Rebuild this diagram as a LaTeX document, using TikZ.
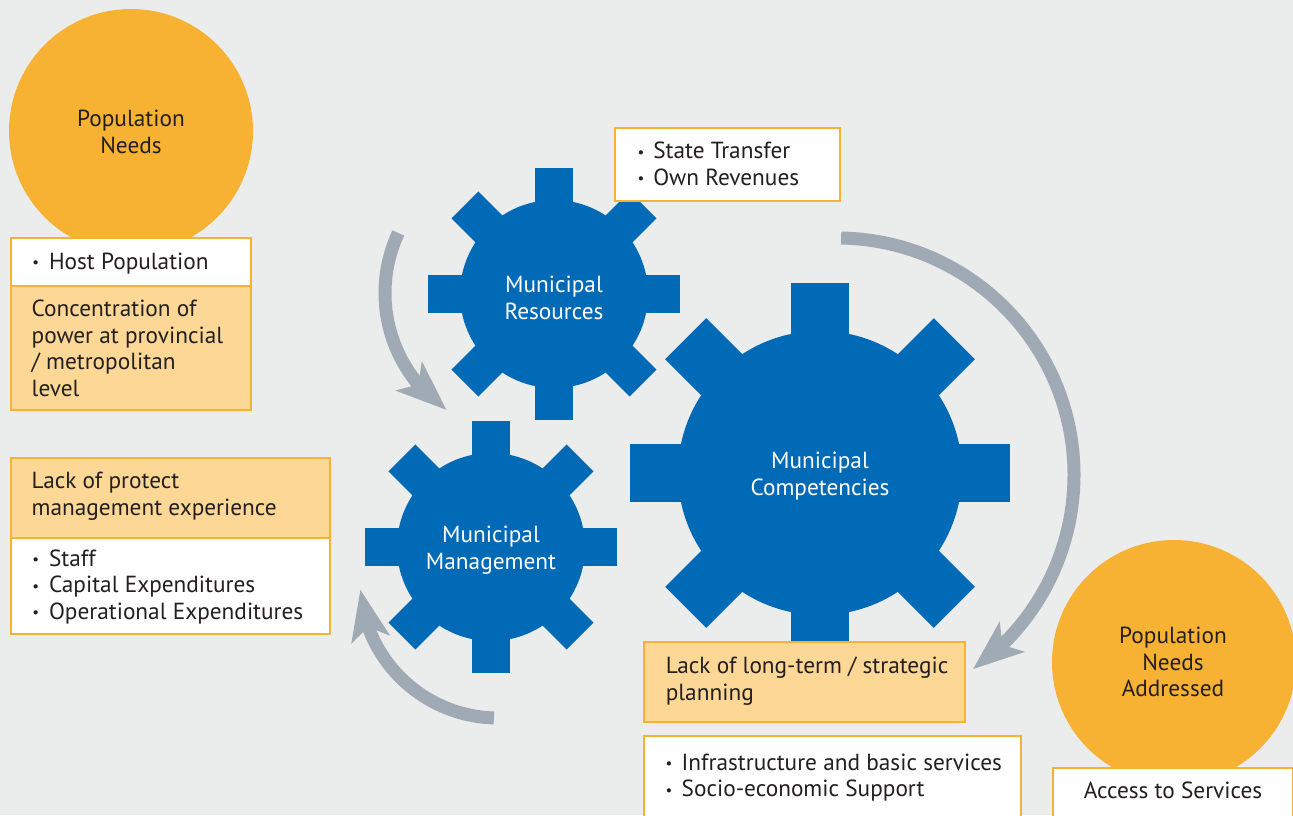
\documentclass[tikz,border=0pt]{standalone}
\usepackage{fontspec}
\setmainfont{PT Sans}
\usetikzlibrary{arrows.meta,bending}
\definecolor{bgc}{HTML}{EBECEC}
\definecolor{gearblue}{HTML}{006AB6}
\definecolor{orng}{HTML}{F7B233}
\definecolor{lightor}{HTML}{FDD795}
\definecolor{arrowgrey}{HTML}{A0AAB5}
\definecolor{txtc}{HTML}{231F20}
\newcommand\bul[1]{\makebox[#1][l]{\raisebox{1.5pt}{\fontsize{15}{15}\selectfont\textbullet}}}
\newcommand\drawgear[5]{%
  \begin{scope}[shift={(#1,#2)}]
    \fill[gearblue] (0,0) circle[radius=#3];
    \foreach \a in {0,45,...,315}
      \fill[gearblue, rotate=\a] (0,-#5/2) rectangle (#4,#5/2);
  \end{scope}}
\begin{document}
\begin{tikzpicture}[x=1pt,y=-1pt,
  every node/.style={inner sep=0pt, outer sep=0pt, text=txtc,
    font=\fontsize{23.3}{26.5}\selectfont},
  wbox/.style={draw=orng, line width=2.5pt, fill=white, anchor=north west},
  obox/.style={draw=orng, line width=2.5pt, fill=lightor, anchor=north west},
  circ/.style={circle, fill=orng},
  gtxt/.style={text=white, align=center, anchor=base},
  ltxt/.style={align=left, anchor=base west},
  garrow/.style={draw=arrowgrey, line width=13pt,
    -{Stealth[length=50pt, width=38pt, inset=12pt, flex]}}
]
\fill[bgc] (0,0) rectangle (1293,815);
\useasboundingbox (0,0) rectangle (1293,815);

% circles
\node[circ, minimum size=244pt] (pn) at (131,131) {};
\node[circ, minimum size=244pt] (pna) at (1174,662) {};

% gears
\drawgear{554}{294}{94}{126}{38}
\drawgear{491}{547}{94}{126}{38}
\drawgear{820}{473}{142}{190}{58}

% arrows
\coordinate (c1) at (527,293);
\coordinate (c2) at (498,580);
\coordinate (c3) at (837,475);
\draw[garrow] (c1) ++(205:142) arc[start angle=205, end angle=124.5, radius=142];
\draw[garrow] (c2) ++(91.7:138) arc[start angle=91.7, end angle=176, radius=138];
\draw[garrow] (c3) ++(-89:237) arc[start angle=-89, end angle=55, radius=237];

% boxes
\node[wbox, minimum width=240pt, minimum height=48pt] (b1) at (11,238) {};
\node[obox, minimum width=240pt, minimum height=124pt] (b2) at (11,286) {};
\node[obox, minimum width=319pt, minimum height=80pt] (b3) at (11,458) {};
\node[wbox, minimum width=319pt, minimum height=96pt] (b4) at (11,538) {};
\node[wbox, minimum width=225pt, minimum height=73pt] (b5) at (615,128) {};
\node[obox, minimum width=321pt, minimum height=80pt] (b6) at (644,642) {};
\node[wbox, minimum width=377pt, minimum height=100pt] (b7) at (644,736) {};
\node[wbox, minimum width=240pt, minimum height=60pt] (b8) at (1053,768) {};

% texts (multi-line nodes: base = last line's baseline)
\node[align=center, anchor=base] (tpn) at (131,153.3) {Population\\Needs};
\node[align=center, anchor=base] (tpna) at (1173,696.7) {Population\\Needs\\Addressed};
\node[gtxt] (gRes) at (554,319.3) {Municipal\\Resources};
\node[gtxt] (gMan) at (491,569.3) {Municipal\\Management};
\node[gtxt] (gCom) at (820,495) {Municipal\\Competencies};

\node[ltxt] (t1) at (32.3,269.3) {\bul{16.7pt}Host Population};
\node[ltxt] (t2) at (31.7,396.2) {Concentration of\\power at provincial\\/ metropolitan\\level};
\node[ltxt] (t3) at (31.7,515) {Lack of protect\\management experience};
\node[ltxt] (t4) at (32.3,619.3) {\bul{16.7pt}Staff\\\bul{16.7pt}Capital Expenditures\\\bul{16.7pt}Operational Expenditures};
\node[ltxt] (t5) at (637.7,185) {\bul{15.6pt}State Transfer\\\bul{15.6pt}Own Revenues};
\node[ltxt] (t6) at (665.8,700) {Lack of long-term / strategic\\planning};
\node[ltxt] (t7) at (665.5,796.7) {\bul{16.2pt}Infrastructure and basic services\\\bul{16.2pt}Socio-economic Support};
\node[anchor=base] (t8) at (1173,798.3) {Access to Services};
\end{tikzpicture}
\end{document}
